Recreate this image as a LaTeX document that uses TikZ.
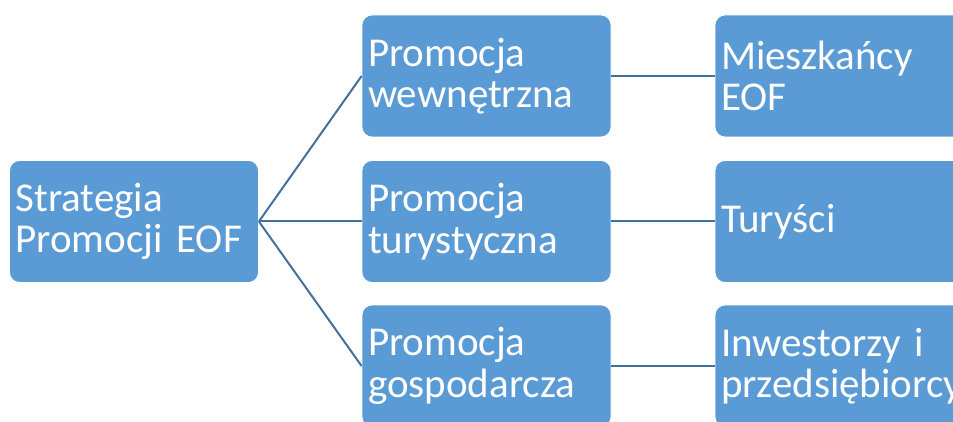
\documentclass[tikz,border=0pt]{standalone}
\usepackage{fontspec}
\setmainfont{Carlito}
\definecolor{boxblue}{HTML}{5B9BD5}
\definecolor{lineblue}{HTML}{41719C}
\tikzset{
  box/.style={draw=white, line width=0.8pt, fill=boxblue, rounded corners=10pt,
    minimum width=249pt, minimum height=122pt, inner xsep=6pt, inner ysep=0pt,
    text width=237pt, align=left, text=white,
    font=\fontsize{41}{41.5}\selectfont},
  conn/.style={draw=lineblue, line width=2pt}
}
\begin{document}
\begin{tikzpicture}[x=1pt,y=-1pt]
\useasboundingbox (0,0) rectangle (953,422);
\clip (0,0) rectangle (953,422);
\node[box] (root) at (134,221.5) {Strategia\\Promocji EOF};
\node[box] (m1) at (486.5,76) {Promocja\\wewnętrzna};
\node[box] (m2) at (486.5,221.5) {Promocja\\turystyczna};
\node[box] (m3) at (486.5,366) {Promocja\\gospodarcza};
\node[box] (r1) at (839.5,76) {Mieszkańcy\\EOF};
\node[box] (r2) at (839.5,221.5) {Turyści};
\node[box] (r3) at (839.5,366) {Inwestorzy i\\przedsiębiorcy};
\draw[conn] (root.east) -- (m1.west);
\draw[conn] (root.east) -- (m2.west);
\draw[conn] (root.east) -- (m3.west);
\draw[conn] (m1.east) -- (r1.west);
\draw[conn] (m2.east) -- (r2.west);
\draw[conn] (m3.east) -- (r3.west);
\end{tikzpicture}
\end{document}
